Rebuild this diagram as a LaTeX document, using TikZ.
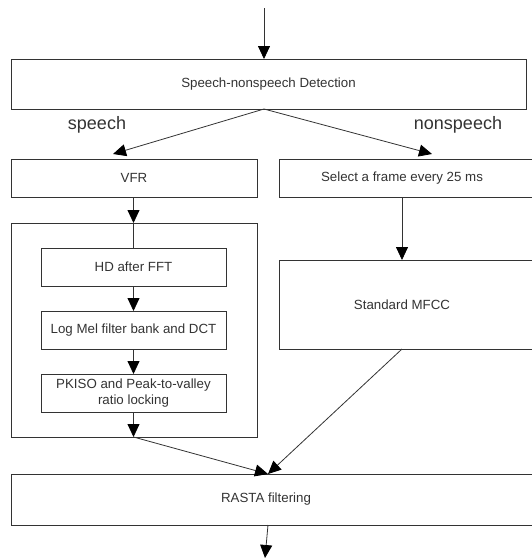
\documentclass[tikz,border=0pt]{standalone}
\usepackage{fontspec}
\setmainfont{Liberation Sans}
\usetikzlibrary{arrows.meta}
\definecolor{ink}{HTML}{333333}
\begin{document}
\begin{tikzpicture}[x=1pt,y=-1pt,
  box/.style={draw=ink, line width=0.8pt, inner sep=0pt, outer sep=0pt,
    text=ink, font=\fontsize{13.3}{16}\selectfont, align=center},
  openbox/.style={box, draw=none},
  frame/.style={draw=ink, line width=0.8pt},
  flow/.style={frame, -{Triangle[length=13pt,width=12pt,color=black]}},
  tag/.style={font=\fontsize{18}{21}\selectfont, text=ink}]
\useasboundingbox (0,0) rectangle (532,558);

% main boxes
\node[box, minimum width=515pt, minimum height=50pt] (det) at (268.5,84) {Speech-nonspeech Detection};
\node[box, minimum width=246pt, minimum height=38pt] (vfr) at (134,178) {VFR};
\node[openbox, minimum width=246pt, minimum height=38pt] (sel) at (402,178) {Select a frame every 25 ms};
\node[box, minimum width=246pt, minimum height=214pt] (cont) at (134,330) {};
\node[box, minimum width=185pt, minimum height=38pt] (hd) at (133.5,267) {HD after FFT};
\node[box, minimum width=185pt, minimum height=38pt] (mel) at (133.5,330) {Log Mel filter bank and DCT};
\node[box, minimum width=185pt, minimum height=38pt] (pk) at (133.5,393) {PKISO and Peak-to-valley\\ ratio locking};
\node[openbox, minimum width=246pt, minimum height=89pt] (mfcc) at (402,304.5) {Standard MFCC};
\node[openbox, minimum width=510pt, minimum height=51pt] (rasta) at (266,499.5) {RASTA filtering};

% boxes running off the right edge
\draw[frame] (sel.north west) ++(300,0) -- (sel.north west) -- (sel.south west) -- ++(300,0);
\draw[frame] (mfcc.north west) ++(300,0) -- (mfcc.north west) -- (mfcc.south west) -- ++(300,0);
\draw[frame] (rasta.north west) ++(600,0) -- (rasta.north west) -- (rasta.south west) -- ++(600,0);

% branch labels
\node[tag] (lsp) at (97,125) {speech};
\node[tag] (lnsp) at (458,125) {nonspeech};

% connectors
\coordinate (src) at (264,8);
\coordinate (tosp) at (113,154);
\coordinate (tonsp) at (432,154);
\coordinate (join) at (268,474);
\coordinate (out) at (265,558);

\draw[flow] (src) -- (src |- det.north);
\draw[flow] (src |- det.south) -- (tosp);
\draw[flow] (src |- det.south) -- (tonsp);
\draw[flow] (vfr.south -| hd.north) -- (hd.north |- cont.north);
\draw[frame] (hd.north |- cont.north) -- (hd.north);
\draw[flow] (hd) -- (mel);
\draw[flow] (mel) -- (pk);
\draw[flow] (pk.south) -- (pk.south |- cont.south);
\draw[flow] (pk.south |- cont.south) -- (join);
\draw[flow] (sel.south) -- (mfcc.north);
\draw[flow] (mfcc.south) -- (join);
\draw[flow] (join |- rasta.south) -- (out);
\end{tikzpicture}
\end{document}
